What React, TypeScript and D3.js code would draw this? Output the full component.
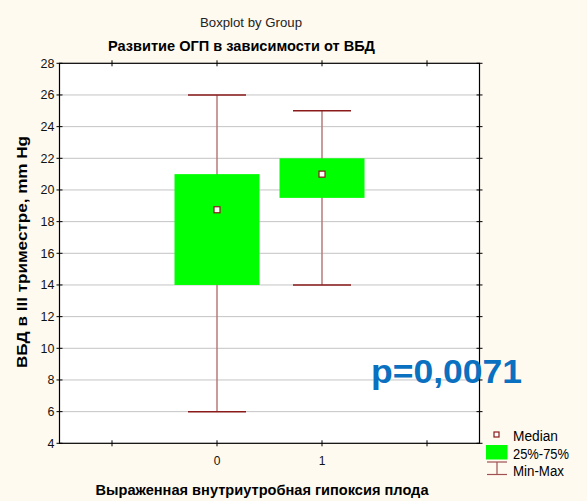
import React, { useEffect, useRef } from 'react';
import * as d3 from 'd3';

// group data
const groups = ['0', '1'];
const minValues = [6, 14];
const q1Values = [14, 19.5];
const medianValues = [18.75, 21];
const q3Values = [21, 22];
const maxValues = [26, 25];
const yTicks = [4, 6, 8, 10, 12, 14, 16, 18, 20, 22, 24, 26, 28];
const xTicks = [-1, 0, 1, 2];

const W = 587;
const H = 501;
const margin = { left: 59.5, right: 107.5, top: 63.3, bottom: 57.7 };

const App: React.FC = () => {
  const svgRef = useRef<SVGSVGElement>(null);

  useEffect(() => {
    if (!svgRef.current) return;
    const svg = d3.select(svgRef.current);
    svg.selectAll('*').remove();

    const font = "'Liberation Sans', Arial, sans-serif";
    const x0 = margin.left;
    const x1 = W - margin.right;
    const y0 = margin.top;
    const y1 = H - margin.bottom;

    const x = d3.scaleLinear().domain([-1.5, 2.5]).range([x0, x1]);
    const y = d3.scaleLinear().domain([4, 28]).range([y1, y0]);

    // text helper, squeezes the text to the width seen in the picture
    const label = (
      tx: number, ty: number, str: string, size: number, len: number,
      bold = false, anchor = 'start'
    ) =>
      svg.append('text')
        .attr('x', tx).attr('y', ty)
        .attr('text-anchor', anchor)
        .attr('font-family', font)
        .attr('font-size', size)
        .attr('font-weight', bold ? 'bold' : 'normal')
        .attr('textLength', len)
        .attr('lengthAdjust', 'spacingAndGlyphs')
        .text(str);

    // background
    svg.append('rect').attr('width', W).attr('height', H).attr('fill', '#fffaf0');
    svg.append('rect')
      .attr('x', x0).attr('y', y0)
      .attr('width', x1 - x0).attr('height', y1 - y0)
      .attr('fill', '#ffffff');

    // gridlines
    svg.append('g')
      .selectAll('line')
      .data(yTicks.filter(t => t > 4 && t < 28))
      .join('line')
      .attr('x1', x0).attr('x2', x1)
      .attr('y1', d => y(d)).attr('y2', d => y(d))
      .attr('stroke', '#c4c4c4')
      .attr('stroke-width', 1);

    // y axis labels + ticks
    const yAxis = svg.append('g');
    yAxis.selectAll('text')
      .data(yTicks)
      .join('text')
      .attr('x', x0 - 5)
      .attr('y', d => y(d))
      .attr('dy', '0.36em')
      .attr('text-anchor', 'end')
      .attr('font-family', font)
      .attr('font-size', 12.5)
      .attr('fill', '#111')
      .text(d => d);
    yAxis.selectAll('line.tl')
      .data(yTicks)
      .join('line')
      .attr('x1', x0 - 3).attr('x2', x0 + 3)
      .attr('y1', d => y(d)).attr('y2', d => y(d))
      .attr('stroke', '#000');
    yAxis.selectAll('line.tr')
      .data(yTicks)
      .join('line')
      .attr('x1', x1 - 3).attr('x2', x1 + 3)
      .attr('y1', d => y(d)).attr('y2', d => y(d))
      .attr('stroke', '#000');

    // x ticks top and bottom
    const xAxis = svg.append('g');
    xTicks.forEach(t => {
      xAxis.append('line')
        .attr('x1', x(t)).attr('x2', x(t))
        .attr('y1', y1 - 3).attr('y2', y1 + 3)
        .attr('stroke', '#000');
      xAxis.append('line')
        .attr('x1', x(t)).attr('x2', x(t))
        .attr('y1', y0 - 3).attr('y2', y0 + 3)
        .attr('stroke', '#000');
    });
    xAxis.selectAll('text')
      .data(groups)
      .join('text')
      .attr('x', (d, i) => x(i))
      .attr('y', y1 + 22)
      .attr('text-anchor', 'middle')
      .attr('font-family', font)
      .attr('font-size', 12)
      .attr('fill', '#111')
      .text(d => d);

    // boxes
    const boxW = 85;
    const capW = 58;
    const g = svg.append('g');
    groups.forEach((_, i) => {
      const cx = x(i);
      g.append('line')
        .attr('x1', cx).attr('x2', cx)
        .attr('y1', y(minValues[i])).attr('y2', y(maxValues[i]))
        .attr('stroke', '#b87a7a').attr('stroke-width', 1.5);
      [minValues[i], maxValues[i]].forEach(v => {
        g.append('line')
          .attr('x1', cx - capW / 2).attr('x2', cx + capW / 2)
          .attr('y1', y(v)).attr('y2', y(v))
          .attr('stroke', '#8b1a1a').attr('stroke-width', 1.5);
      });
      g.append('rect')
        .attr('x', cx - boxW / 2)
        .attr('y', y(q3Values[i]))
        .attr('width', boxW)
        .attr('height', y(q1Values[i]) - y(q3Values[i]))
        .attr('fill', '#00ff00');
      g.append('rect')
        .attr('x', cx - 3).attr('y', y(medianValues[i]) - 3)
        .attr('width', 6).attr('height', 6)
        .attr('fill', '#fff')
        .attr('stroke', '#8b1a1a').attr('stroke-width', 1.2);
    });

    // frame
    svg.append('rect')
      .attr('x', x0).attr('y', y0)
      .attr('width', x1 - x0).attr('height', y1 - y0)
      .attr('fill', 'none')
      .attr('stroke', '#000').attr('stroke-width', 1.2);

    // titles
    label(200, 27, 'Boxplot by Group', 12.5, 102).attr('fill', '#222');
    label(108, 51, 'Развитие ОГП в зависимости от ВБД', 15.5, 267, true);
    label(95.5, 495, 'Выраженная внутриутробная гипоксия плода', 15.5, 333, true);
    label(0, 0, 'ВБД в III триместре, mm Hg', 15.5, 232, true, 'middle')
      .attr('transform', `translate(27,252) rotate(-90)`);

    // p value annotation
    label(371, 383, 'p=0,0071', 34, 151, true).attr('fill', '#0a70c0');

    // legend
    svg.append('rect')
      .attr('x', 494).attr('y', 432).attr('width', 5).attr('height', 5)
      .attr('fill', '#fff').attr('stroke', '#8b1a1a').attr('stroke-width', 1.2);
    label(513, 440.5, 'Median', 14, 45);
    svg.append('rect')
      .attr('x', 486).attr('y', 445).attr('width', 21.5).attr('height', 14.5)
      .attr('fill', '#00ff00');
    label(513, 458.5, '25%-75%', 14, 56);
    const mm = svg.append('g').attr('stroke', '#a05050').attr('stroke-width', 1.2);
    mm.append('line').attr('x1', 487).attr('x2', 507).attr('y1', 462).attr('y2', 462);
    mm.append('line').attr('x1', 487).attr('x2', 507).attr('y1', 474.5).attr('y2', 474.5);
    mm.append('line').attr('x1', 497).attr('x2', 497).attr('y1', 462).attr('y2', 474.5);
    label(513, 476, 'Min-Max', 14, 51);
  }, []);

  return (
    <svg
      ref={svgRef}
      width={W}
      height={H}
      style={{ position: 'absolute', left: 0, top: 0 }}
    />
  );
};

export default App;
